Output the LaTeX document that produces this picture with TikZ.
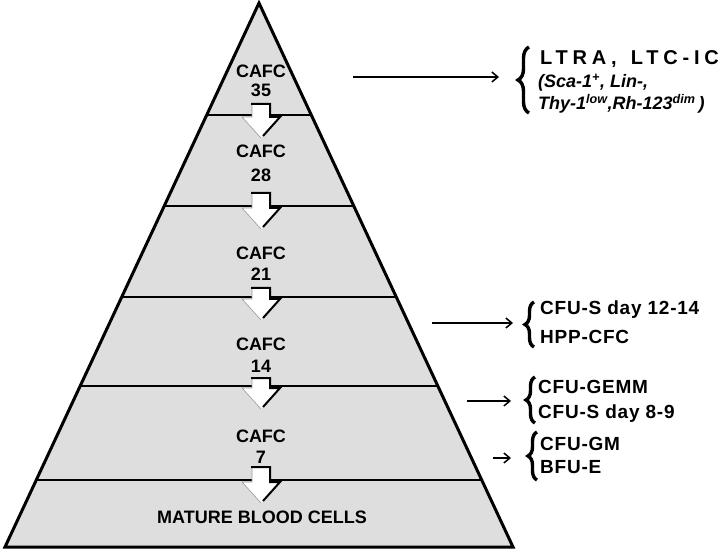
\documentclass[tikz,border=0pt]{standalone}
\usepackage{fontspec}
\setmainfont{Liberation Sans}
\usetikzlibrary{arrows.meta,decorations.pathreplacing}

\tikzset{
	tier/.style={font=\fontsize{18}{20}\selectfont\bfseries, inner sep=0pt, anchor=base},
	celltype/.style={font=\fontsize{19}{22}\selectfont\bfseries\addfontfeature{LetterSpace=4}, inner sep=0pt, anchor=base west},
	markers/.style={font=\fontsize{18}{20}\selectfont\bfseries\itshape, inner sep=0pt, anchor=base west},
	pointer/.style={line width=1.8pt, -{Straight Barb[length=6pt,width=10pt,line width=1.5pt]}},
	curly/.style={decorate, decoration={brace, amplitude=9pt}, line width=3.4pt},
}

\begin{document}
\begin{tikzpicture}[x=1pt,y=-1pt]
	\useasboundingbox (0,0) rectangle (720,553);

	% pyramid
	\coordinate (apex) at (259,3);
	\coordinate (bl) at (5,547);
	\coordinate (br) at (513,547);
	\fill[black!13] (apex) -- (br) -- (bl) -- cycle;
	\begin{scope}
		\clip (apex) -- (br) -- (bl) -- cycle;
		\foreach \ly in {115,206,297,386,480} {
			\draw[line width=2.4pt] (0,\ly) -- (720,\ly);
		}
	\end{scope}
	\draw[line width=3pt, line join=miter] (apex) -- (br) -- (bl) -- cycle;

	% block arrows between the tiers
	\foreach \ly/\top in {115/104, 206/193, 297/288, 386/378, 480/467} {
		\fill[white] (252,\top) -- (270,\top) -- (270,\ly+2) -- (280,\ly+2) -- (261,\ly+23) -- (242,\ly+2) -- (252,\ly+2) -- cycle;
		\draw[black!40, line width=0.6pt] (252,\top+1) -- (252,\ly+2) -- (242,\ly+2) -- (261,\ly+23);
		\draw[line width=2pt] (251,\top) -- (270,\top) -- (270,\ly+2) -- (280,\ly+2) -- (263,\ly+21);
	}

	\foreach \num/\yc/\yn in {35/78/97, 28/158/182, 21/260/280, 14/350/372, 7/442/463} {
		\node[tier] (cafc\num) at (261,\yc) {CAFC};
		\node[tier] (gen\num) at (261,\yn) {\num};
	}
	\node[tier] (mature) at (262,523) {MATURE BLOOD CELLS};

	% cell types on the right
	\node[celltype, font=\fontsize{20}{22}\selectfont\bfseries\addfontfeature{LetterSpace=24}] (ltra) at (540,65) {LTRA,\hspace{14pt}LTC-IC};
	\node[markers] (sca) at (538,88) {(Sca-1\textsuperscript{+}, Lin-,};
	\node[markers] (thy) at (538,110) {Thy-1\textsuperscript{low},Rh-123\textsuperscript{dim}\,)};
	\node[celltype] (cfus12) at (540,315) {CFU-S day 12-14};
	\node[celltype] (hpp) at (540,343) {HPP-CFC};
	\node[celltype] (gemm) at (538,393) {CFU-GEMM};
	\node[celltype] (cfus8) at (538,418) {CFU-S day 8-9};
	\node[celltype] (gm) at (540,450) {CFU-GM};
	\node[celltype] (bfu) at (540,473) {BFU-E};

	\draw[curly, decoration={amplitude=11pt}] (529,113) -- (529,47);
	\draw[curly] (534,347) -- (534,302);
	\draw[curly] (535,423) -- (535,377);
	\draw[curly] (537,480) -- (537,432);

	\coordinate (from35) at (353,77);
	\coordinate (to35) at (499,77);
	\coordinate (from14) at (432,323);
	\coordinate (to14) at (513,323);
	\coordinate (from7a) at (467,401);
	\coordinate (to7a) at (511,401);
	\coordinate (from7b) at (493,458);
	\coordinate (to7b) at (511,458);
	\draw[pointer] (from35) -- (to35);
	\draw[pointer] (from14) -- (to14);
	\draw[pointer] (from7a) -- (to7a);
	\draw[pointer] (from7b) -- (to7b);
\end{tikzpicture}
\end{document}
